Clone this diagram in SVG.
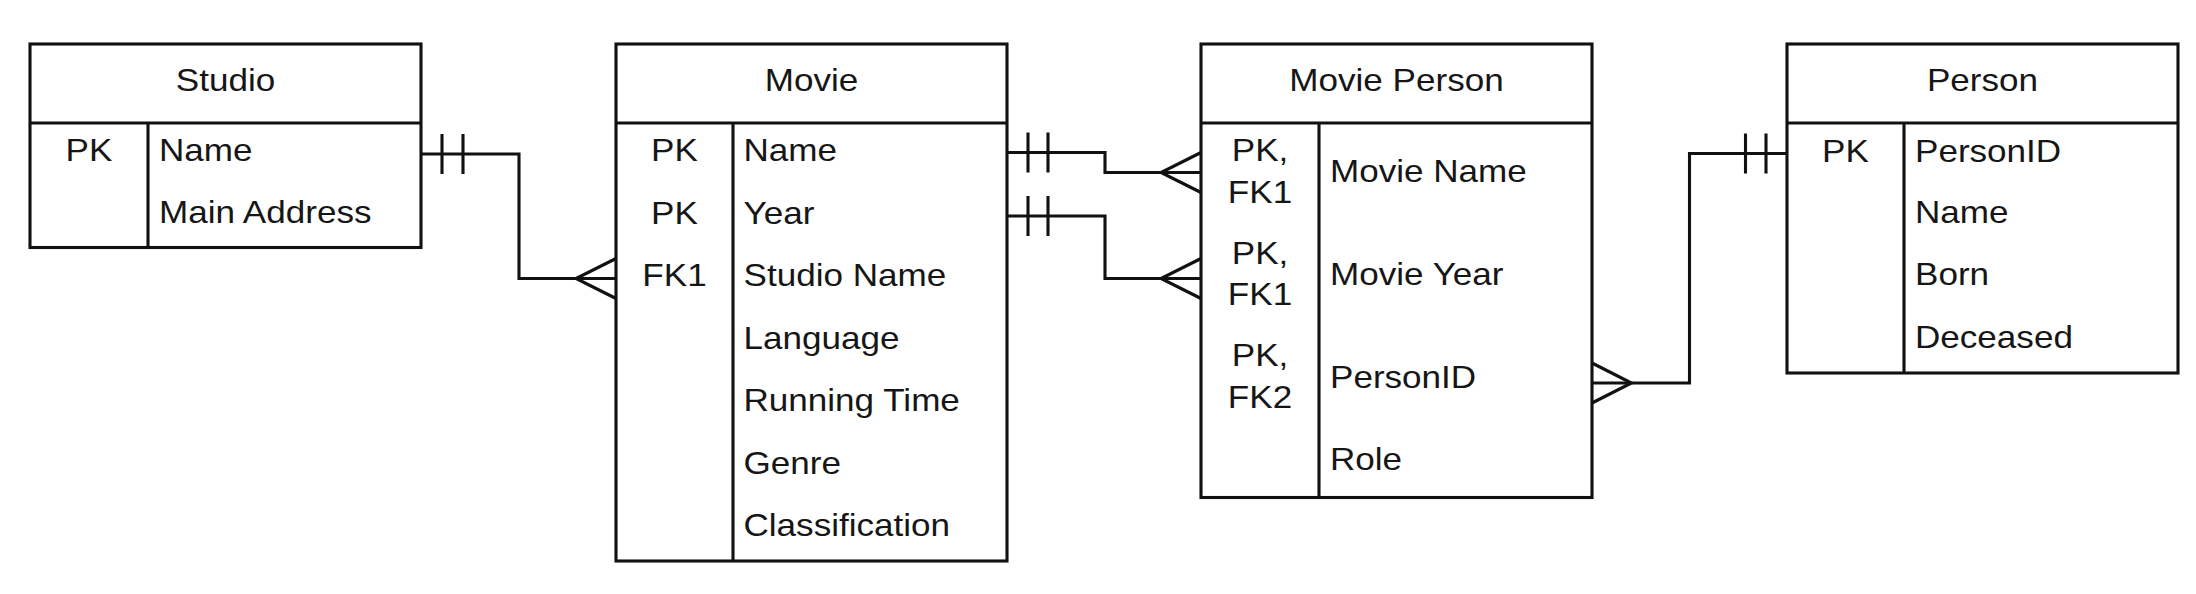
<svg xmlns="http://www.w3.org/2000/svg" width="2196" height="594" viewBox="0 0 2196 594">
<style>
.box{fill:#fff;stroke:#111;stroke-width:3.1}
.ln{fill:none;stroke:#111;stroke-width:3.1}
text{font-family:"Liberation Sans",Arial,sans-serif;font-size:30.5px;fill:#161616}
.c{text-anchor:middle}
</style>
<rect width="2196" height="594" fill="#fff"/>
<g id="studio">
<rect class="box" x="30" y="44" width="391" height="203.5"/>
<line class="ln" x1="30" y1="123" x2="421" y2="123"/>
<line class="ln" x1="148" y1="123" x2="148" y2="247.5"/>
<text class="c" transform="matrix(1.15 0 0 1 225.5 91)">Studio</text>
<text class="c" transform="matrix(1.15 0 0 1 89 161)">PK</text>
<text transform="matrix(1.15 0 0 1 159 161)">Name</text>
<text transform="matrix(1.15 0 0 1 159 223)">Main Address</text>
</g>
<g id="movie">
<rect class="box" x="616" y="44" width="391" height="517"/>
<line class="ln" x1="616" y1="123" x2="1007" y2="123"/>
<line class="ln" x1="733" y1="123" x2="733" y2="561"/>
<text class="c" transform="matrix(1.15 0 0 1 811.5 91)">Movie</text>
<text class="c" transform="matrix(1.15 0 0 1 674.5 161)">PK</text>
<text class="c" transform="matrix(1.15 0 0 1 674.5 223.5)">PK</text>
<text class="c" transform="matrix(1.15 0 0 1 674.5 286)">FK1</text>
<text transform="matrix(1.15 0 0 1 743.5 161)">Name</text>
<text transform="matrix(1.15 0 0 1 743.5 223.5)">Year</text>
<text transform="matrix(1.15 0 0 1 743.5 286)">Studio Name</text>
<text transform="matrix(1.15 0 0 1 743.5 348.5)">Language</text>
<text transform="matrix(1.15 0 0 1 743.5 411)">Running Time</text>
<text transform="matrix(1.15 0 0 1 743.5 473.5)">Genre</text>
<text transform="matrix(1.15 0 0 1 743.5 536)">Classification</text>
</g>
<g id="movie-person">
<rect class="box" x="1201" y="44" width="391" height="453.5"/>
<line class="ln" x1="1201" y1="123" x2="1592" y2="123"/>
<line class="ln" x1="1319" y1="123" x2="1319" y2="497.5"/>
<text class="c" transform="matrix(1.15 0 0 1 1396.5 91)">Movie Person</text>
<text class="c" transform="matrix(1.15 0 0 1 1260 161)">PK,</text>
<text class="c" transform="matrix(1.15 0 0 1 1260 202.5)">FK1</text>
<text class="c" transform="matrix(1.15 0 0 1 1260 263.5)">PK,</text>
<text class="c" transform="matrix(1.15 0 0 1 1260 305)">FK1</text>
<text class="c" transform="matrix(1.15 0 0 1 1260 366)">PK,</text>
<text class="c" transform="matrix(1.15 0 0 1 1260 408)">FK2</text>
<text transform="matrix(1.15 0 0 1 1330 182)">Movie Name</text>
<text transform="matrix(1.15 0 0 1 1330 285)">Movie Year</text>
<text transform="matrix(1.15 0 0 1 1330 388)">PersonID</text>
<text transform="matrix(1.15 0 0 1 1330 470)">Role</text>
</g>
<g id="person">
<rect class="box" x="1787" y="44" width="391" height="329"/>
<line class="ln" x1="1787" y1="123" x2="2178" y2="123"/>
<line class="ln" x1="1904" y1="123" x2="1904" y2="373"/>
<text class="c" transform="matrix(1.15 0 0 1 1982.5 91)">Person</text>
<text class="c" transform="matrix(1.15 0 0 1 1845.5 161.5)">PK</text>
<text transform="matrix(1.15 0 0 1 1915 161.5)">PersonID</text>
<text transform="matrix(1.15 0 0 1 1915 223)">Name</text>
<text transform="matrix(1.15 0 0 1 1915 285)">Born</text>
<text transform="matrix(1.15 0 0 1 1915 348)">Deceased</text>
</g>
<g id="connectors">
<path class="ln" d="M421 154H519V278.5H616"/>
<path class="ln" d="M442 134V174M463 134V174"/>
<path class="ln" d="M616 258.5L576 278.5L616 298.5"/>
<path class="ln" d="M1007 152.5H1105V172.5H1201"/>
<path class="ln" d="M1028 132.5V172.5M1048 132.5V172.5"/>
<path class="ln" d="M1201 152.5L1161 172.5L1201 192.5"/>
<path class="ln" d="M1007 216H1105V278.5H1201"/>
<path class="ln" d="M1028 196V236M1048 196V236"/>
<path class="ln" d="M1201 258.5L1161 278.5L1201 298.5"/>
<path class="ln" d="M1592 383H1689.5V153.5H1787"/>
<path class="ln" d="M1745.5 133.5V173.5M1766 133.5V173.5"/>
<path class="ln" d="M1592 363L1631.5 383L1592 403"/>
</g>
</svg>
